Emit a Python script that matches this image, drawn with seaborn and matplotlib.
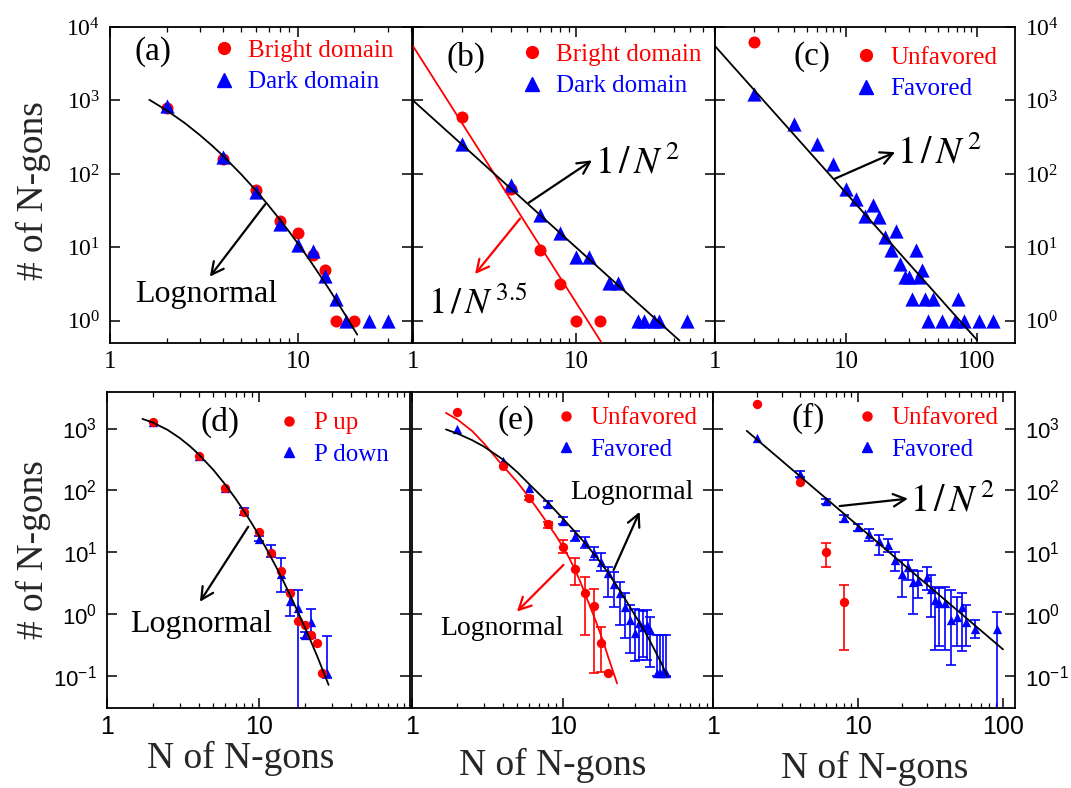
import matplotlib
matplotlib.use('Agg')
import matplotlib.pyplot as plt
from matplotlib.lines import Line2D
from matplotlib.ticker import NullLocator, NullFormatter, LogLocator
from matplotlib.transforms import Affine2D
import seaborn as sns

# ---------------- data ----------------
# (a) bright / dark domains
a_n_bright = [2, 4, 6, 8, 10, 12, 14, 16, 20]
a_bright = [795, 162, 61, 22.7, 15.8, 7.9, 5.0, 1, 1]
a_n_dark = [2, 4, 6, 8, 10, 12, 14, 16, 18, 24, 30]
a_dark = [853, 170, 57, 20.7, 10.7, 9.0, 4.1, 2.0, 1, 1, 1]
a_fit_n = [1.62, 2, 2.5, 3, 3.5, 4, 5, 6, 7, 8, 9, 10, 11.5, 13, 14.5, 16, 18, 20.7]
a_fit = [1021, 736, 493, 340, 242, 176, 98.4, 59, 36.9, 24.1, 16.3, 11.3, 6.84,
         4.3, 2.82, 1.91, 1.17, 0.65]

# (b)
b_n_bright = [2, 4, 6, 8, 10, 14]
b_bright = [592, 63, 9.2, 3.15, 1, 1]
b_n_dark = [2, 4, 6, 8, 10, 12, 16, 18, 24, 26, 30, 32, 48]
b_dark = [258, 70, 27.4, 15.5, 7.5, 7.5, 3.25, 3.25, 1, 1, 1, 1, 1]
b_fit2_n = [1, 43]
b_fit2 = [1000, 0.54]
b_fit35_n = [1, 14.2]
b_fit35 = [5500, 0.52]

# (c)
c_n_unf = [2]
c_unf = [6340]
c_n_fav = [2, 4, 6, 8, 10, 12, 14, 16, 18, 20, 22, 24, 26, 28, 30, 32, 34, 36,
           38, 40, 42, 46, 54, 68, 72, 80, 104, 132]
c_fav = [1230, 480, 252, 135, 62, 45, 26.4, 38, 25.7, 13.7, 9.1, 16.9, 5.9, 4.0,
         4.0, 2.0, 9.1, 4.0, 5.0, 2.0, 1, 2.0, 1, 1, 2.0, 1, 1, 1]
c_fit_n = [1, 100]
c_fit = [5500, 0.55]

# (d) P up / P down
d_n_up = [2, 4, 6, 8, 10, 12, 14, 16, 18, 20, 22, 24, 26]
d_up = [1253, 357, 111, 45, 20.8, 9.5, 5.0, 2.2, 0.78, 0.66, 0.45, 0.334, 0.11]
d_n_down = [2, 4, 6, 8, 10, 12, 14, 16, 18, 20, 22, 28]
d_down = [1253, 357, 111, 46, 16.3, 10.5, 4.5, 1.6, 1.26, 0.456, 0.75, 0.112]
d_down_minus = [0, 0, 0, 6, 1.3, 2.1, 2.2, 0.68, 1.26, 0.056, 0.35, 0.02]
d_down_plus = [0, 0, 0, 6, 1.7, 2.5, 3.4, 0.83, 1.14, 0.06, 0.44, 0.33]
d_fit_n = [1.71, 2, 2.5, 3, 3.5, 4, 5, 6, 7, 8, 9, 10, 11.5, 13, 14.5, 16, 18,
           20, 22, 24, 26, 28.6]
d_fit = [1432, 1253, 951, 705, 520, 384, 214, 123, 73.3, 45, 28.4, 18.3, 9.9,
         5.6, 3.3, 2.0, 1.07, 0.60, 0.348, 0.21, 0.128, 0.071]

# (e)
e_n_unf = [2, 4, 6, 8, 10, 12, 14, 16, 18, 20]
e_unf = [1860, 249, 75.6, 28, 12.2, 5.3, 2.15, 1.36, 0.334, 0.112]
e_unf_minus = [0, 0, 6, 3, 2.7, 2.4, 1.7, 1.25, 0.22, 0]
e_unf_plus = [0, 0, 6, 3, 3.5, 2.6, 1.75, 1.14, 0.27, 0]
e_n_fav = [2, 4, 6, 8, 10, 12, 14, 16, 18, 20, 22, 24, 26, 28, 30, 32, 34, 36,
           38, 42, 44, 46, 48]
e_fav = [1000, 300, 107, 60, 32, 18.5, 14.5, 9.5, 7.0, 4.6, 3.1, 2.15, 1.3, 0.8,
         0.49, 0.70, 0.62, 0.66, 0.55, 0.11, 0.11, 0.11, 0.11]
e_fav_minus = [0, 0, 0, 6, 4, 3.5, 3, 2.1, 2, 2.7, 1.8, 1.5, 0.9, 0.57, 0.32,
               0.52, 0.42, 0.48, 0.41, 0.01, 0.01, 0.01, 0.01]
e_fav_plus = [0, 0, 0, 7, 5, 3.5, 2.8, 2.7, 2.5, 1.2, 1.7, 1.15, 0.9, 0.6, 0.7,
              0.46, 0.48, 0.5, 0.35, 0.35, 0.35, 0.35, 0.35]
e_fit_unf_n = [1.68, 2, 2.5, 3, 4, 5, 6, 7, 8, 9, 10, 11, 12, 13, 14, 15.5, 17,
               18.5, 20, 22.9]
e_fit_unf = [1790, 1400, 916, 574, 249, 135, 75.7, 45, 28.1, 18.5, 12.2, 8.1,
             5.3, 3.4, 2.15, 1.15, 0.64, 0.36, 0.20, 0.075]
e_fit_fav_n = [1.68, 2, 2.5, 3, 4, 5, 6, 8, 10, 12, 14, 17, 20, 25, 30, 35, 40,
               45, 49]
e_fit_fav = [966, 830, 650, 510, 316, 196, 125, 62.7, 35, 21.5, 14.1, 7.9, 4.6,
             2.0, 0.96, 0.52, 0.28, 0.16, 0.1]

# (f)
f_n_unf = [2, 4, 6, 8]
f_unf = [2540, 137, 10.1, 1.57]
f_unf_minus = [0, 0, 4.4, 1.31]
f_unf_plus = [0, 0, 4.1, 1.36]
f_n_fav = [2, 4, 6, 8, 10, 12, 14, 16, 18, 20, 22, 24, 26, 30, 32, 34, 36, 40,
           44, 48, 52, 56, 64, 91]
f_fav = [706, 183, 67, 35.5, 25.5, 19.5, 15, 13.2, 7.5, 4.5, 5.8, 3.3, 3.4, 4.0,
         2.5, 1.68, 1.48, 1.48, 0.8, 0.9, 1.3, 0.75, 0.58, 0.58]
f_fav_minus = [0, 20, 6, 4.5, 3.5, 4.5, 6, 3.2, 2.5, 2.6, 2.3, 2.3, 1.6, 1.6, 1.6,
               1.42, 1.18, 1.22, 0.65, 0.6, 1.05, 0.45, 0.18, 0.58]
f_fav_plus = [0, 20, 6, 4.5, 3.5, 4.5, 4, 2.8, 2.5, 2.9, 1.7, 1.8, 1.6, 1.8, 1.7,
              1.07, 1.1, 1.27, 1.63, 1.0, 0.85, 0.65, 0.22, 0.51]
f_fit_n = [1.71, 100]
f_fit = [916, 0.267]

# ---------------- style ----------------
sns.set_theme(style='ticks')
plt.rcParams['font.family'] = ['Liberation Serif', 'DejaVu Serif']
plt.rcParams['mathtext.fontset'] = 'stix'
plt.rcParams['axes.linewidth'] = 1.3
plt.rcParams['axes.edgecolor'] = 'black'

RED, BLUE = '#ff0000', '#0000ff'
SERIF, SANS = 'Liberation Serif', 'Liberation Sans'

W, H = 1071, 788
fig = plt.figure(figsize=(W / 100, H / 100), dpi=100)
px = Affine2D().scale(1.0 / W, -1.0 / H).translate(0, 1) + fig.transFigure


def panel(l, t, r, b):
    return fig.add_axes([l / W, 1 - b / H, (r - l) / W, (b - t) / H])


def style(ax, xmax, ylim, xticks, exps, side, sans):
    ax.set_xscale('log')
    ax.set_yscale('log')
    fam = SANS if sans else SERIF
    ax.set_xticks(xticks, [str(t) for t in xticks])
    ax.set_yticks([10.0 ** e for e in exps],
                  [r'$\mathdefault{10^{%d}}$' % e for e in exps])
    ax.xaxis.set_minor_locator(LogLocator(base=10, subs=range(2, 10), numticks=20))
    ax.xaxis.set_minor_formatter(NullFormatter())
    ax.yaxis.set_minor_locator(NullLocator())
    ax.set_xlim(1, xmax)
    ax.set_ylim(*ylim)
    ax.tick_params(which='both', direction='in', top=True, right=True,
                   color='black', labelcolor='black', labelfontfamily=fam)
    ax.tick_params(which='major', length=7, width=1.1)
    ax.tick_params(which='minor', length=3.5, width=0.9)
    ax.tick_params(axis='x', labelsize=18, pad=6 if not sans else 5)
    ax.tick_params(axis='y', labelsize=17 if not sans else 16, pad=7,
                   labelleft=(side == 'left'), labelright=(side == 'right'))


def dots(ax, x, y, color, marker, s):
    sns.scatterplot(x=x, y=y, ax=ax, color=color, marker=marker, s=s,
                    linewidth=0, zorder=3, legend=False)


def curve(ax, x, y, color, lw=1.3):
    sns.lineplot(x=x, y=y, ax=ax, color=color, linewidth=lw, estimator=None,
                 sort=False, zorder=4)


def bars(ax, x, y, lo, hi, color):
    keep = [i for i in range(len(x)) if lo[i] > 0 or hi[i] > 0]
    ax.errorbar([x[i] for i in keep], [y[i] for i in keep],
                yerr=[[lo[i] for i in keep], [hi[i] for i in keep]],
                fmt='none', ecolor=color, elinewidth=1.2, capsize=3.5,
                capthick=1.2, zorder=2)


def legend(ax, labels, left, top, big):
    ms_c, ms_t = (8.5, 10) if big else (6.5, 6.5)
    handles = [Line2D([], [], ls='none', marker='o', color=RED, markersize=ms_c),
               Line2D([], [], ls='none', marker='^', color=BLUE, markersize=ms_t)]
    ax.legend(handles, labels, loc='upper left', bbox_to_anchor=(left, top),
              bbox_transform=px, frameon=False, borderpad=0, borderaxespad=0,
              handlelength=1.0, handletextpad=0.5, labelspacing=0.37,
              labelcolor=[RED, BLUE], prop={'family': SERIF, 'size': 18})


def tag(ax, s, x, y):
    ax.text(x, y, s, transform=px, ha='center', va='center', fontsize=24,
            family=SERIF, color='black')


def arrow(ax, tail, head, color='black'):
    ax.annotate('', xy=head, xytext=tail,
                arrowprops=dict(arrowstyle='->,head_length=0.55,head_width=0.28',
                                color=color, lw=1.6, mutation_scale=16,
                                shrinkA=0, shrinkB=0))


def note(ax, s, x, y, size, va='center'):
    ax.text(x, y, s, transform=px, ha='left', va=va, fontsize=size,
            family=SERIF, color='black', math_fontfamily='stix')


top_ylim = (0.5, 1e4)
bot_ylim = (0.03, 3900)
top_exp = [0, 1, 2, 3, 4]
bot_exp = [-1, 0, 1, 2, 3]

# ---------------- (a) ----------------
ax = panel(110, 27, 412, 343)
dots(ax, a_n_bright, a_bright, RED, 'o', 75)
dots(ax, a_n_dark, a_dark, BLUE, '^', 105)
curve(ax, a_fit_n, a_fit, 'black')
style(ax, 40.5, top_ylim, [1, 10], top_exp, 'left', False)
legend(ax, ['Bright domain', 'Dark domain'], 211, 39, True)
tag(ax, '(a)', 153, 52)
arrow(ax, (6.7, 38.7), (3.4, 4.0))
note(ax, 'Lognormal', 135, 295, 23)

# ---------------- (b) ----------------
ax = panel(413, 27, 715, 343)
dots(ax, b_n_bright, b_bright, RED, 'o', 75)
dots(ax, b_n_dark, b_dark, BLUE, '^', 105)
curve(ax, b_fit35_n, b_fit35, RED)
curve(ax, b_fit2_n, b_fit2, 'black')
style(ax, 71, top_ylim, [1, 10], top_exp, 'none', False)
legend(ax, ['Bright domain', 'Dark domain'], 519, 43, True)
tag(ax, '(b)', 466, 57)
arrow(ax, (5.1, 40.3), (12.5, 153))
arrow(ax, (4.53, 24.7), (2.4, 4.34), RED)
note(ax, r'$1\,/\,N^{\,2}$', 595, 173, 27, 'baseline')
note(ax, r'$1\,/\,N^{\,3.5}$', 428, 313, 26, 'baseline')

# ---------------- (c) ----------------
ax = panel(715, 27, 1015, 343)
dots(ax, c_n_unf, c_unf, RED, 'o', 75)
dots(ax, c_n_fav, c_fav, BLUE, '^', 105)
curve(ax, c_fit_n, c_fit, 'black')
style(ax, 195, top_ylim, [1, 10, 100], top_exp, 'right', False)
legend(ax, ['Unfavored', 'Favored'], 853, 46, True)
tag(ax, '(c)', 812, 57)
arrow(ax, (8.2, 86), (23.7, 198))
note(ax, r'$1\,/\,N^{\,2}$', 897, 164, 27, 'baseline')

# ---------------- (d) ----------------
ax = panel(107, 392, 410, 708)
bars(ax, d_n_down, d_down, d_down_minus, d_down_plus, BLUE)
dots(ax, d_n_down, d_down, BLUE, '^', 45)
dots(ax, d_n_up, d_up, RED, 'o', 45)
curve(ax, d_fit_n, d_fit, 'black')
style(ax, 98, bot_ylim, [1, 10], bot_exp, 'left', True)
legend(ax, ['P up', 'P down'], 276, 412, False)
tag(ax, '(d)', 220, 422)
arrow(ax, (8.47, 25.7), (4.08, 1.57))
note(ax, 'Lognormal', 130, 625, 23)

# ---------------- (e) ----------------
ax = panel(412, 392, 713, 708)
bars(ax, e_n_unf, e_unf, e_unf_minus, e_unf_plus, RED)
bars(ax, e_n_fav, e_fav, e_fav_minus, e_fav_plus, BLUE)
dots(ax, e_n_fav, e_fav, BLUE, '^', 45)
dots(ax, e_n_unf, e_unf, RED, 'o', 45)
curve(ax, e_fit_unf_n, e_fit_unf, RED)
curve(ax, e_fit_fav_n, e_fit_fav, 'black')
style(ax, 99, bot_ylim, [1, 10], bot_exp, 'none', True)
legend(ax, ['Unfavored', 'Favored'], 553, 407, False)
tag(ax, '(e)', 516, 421)
arrow(ax, (21.7, 5.13), (32.3, 44.9))
arrow(ax, (10.1, 6.2), (4.96, 1.09), RED)
note(ax, 'Lognormal', 570, 493, 20)
note(ax, 'Lognormal', 440, 629, 20)

# ---------------- (f) ----------------
ax = panel(713, 392, 1015, 708)
bars(ax, f_n_unf, f_unf, f_unf_minus, f_unf_plus, RED)
bars(ax, f_n_fav, f_fav, f_fav_minus, f_fav_plus, BLUE)
dots(ax, f_n_fav, f_fav, BLUE, '^', 45)
dots(ax, f_n_unf, f_unf, RED, 'o', 45)
curve(ax, f_fit_n, f_fit, 'black')
style(ax, 121, bot_ylim, [1, 10, 100], bot_exp, 'right', True)
legend(ax, ['Unfavored', 'Favored'], 854, 407, False)
tag(ax, '(f)', 808, 418)
arrow(ax, (7.48, 55.6), (22.1, 73.3))
note(ax, r'$1\,/\,N^{\,2}$', 910, 512, 27, 'baseline')

# ---------------- axis titles ----------------
for yc in (191, 550):
    fig.text(33 / W, 1 - yc / H, '# of N-gons', rotation=90, ha='center',
             va='center', fontsize=27, family=SERIF)
for xc, yb in ((241, 768), (553, 775), (875, 778)):
    fig.text(xc / W, 1 - yb / H, 'N of N-gons', ha='center', va='baseline',
             fontsize=27, family=SERIF)

fig.savefig('out.png', dpi=100)
